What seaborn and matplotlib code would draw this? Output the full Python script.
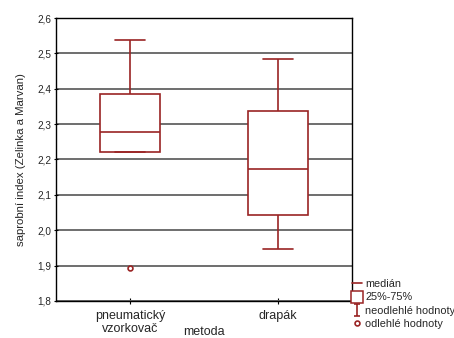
import matplotlib
matplotlib.use("Agg")
import matplotlib.pyplot as plt
from matplotlib.lines import Line2D
from matplotlib.path import Path
import seaborn as sns
import pandas as pd
import numpy as np

# --- data ---
categories = ["pneumatický\nvzorkovač", "drapák"]
whisker_low = [2.221, 1.947]
q1 = [2.221, 2.044]
median = [2.278, 2.174]
q3 = [2.385, 2.336]
whisker_high = [2.537, 2.483]
outliers = [[1.893], []]
yticks = [1.8, 1.9, 2.0, 2.1, 2.2, 2.3, 2.4, 2.5, 2.6]
ytick_labels = ["1,8", "1,9", "2,0", "2,1", "2,2", "2,3", "2,4", "2,5", "2,6"]
legend_labels = ["medián", "25%-75%", "neodlehlé hodnoty", "odlehlé hodnoty"]

# build a 9-point sample per category that reproduces the box summary
rows = []
for i, cat in enumerate(categories):
    prefix = list(outliers[i]) + [whisker_low[i]] * (2 - len(outliers[i]))
    vals = prefix + [q1[i], q1[i], median[i], median[i], q3[i], q3[i], whisker_high[i]]
    for v in vals:
        rows.append({"metoda": cat, "index": v})
df = pd.DataFrame(rows)

sns.set_theme(style="white")
plt.rcParams["font.family"] = ["Liberation Sans", "DejaVu Sans"]

red = "#9a2424"
fig = plt.figure(figsize=(4.54, 3.38), dpi=100)
ax = fig.add_axes([56 / 454, 1 - 301 / 338, 296 / 454, 283 / 338])

ax.yaxis.grid(True, color="#6e6e6e", linewidth=1.4)
ax.set_axisbelow(True)

sns.boxplot(data=df, x="metoda", y="index", order=categories, ax=ax,
            width=0.4, whis=1.5, color="white", linecolor=red, linewidth=1.2,
            flierprops=dict(marker="o", markersize=3.5, markerfacecolor="white",
                            markeredgecolor=red, markeredgewidth=1.2))

ax.set_xlim(-0.5, 1.5)
ax.set_ylim(1.8, 2.6)
ax.set_yticks(yticks)
ax.set_yticklabels(ytick_labels)
ax.set_xlabel("metoda", fontsize=9)
ax.xaxis.set_label_coords(0.5, -0.088)
ax.set_ylabel("saprobní index (Zelinka a Marvan)", fontsize=8.2, labelpad=8)
ax.tick_params(axis="x", labelsize=9, direction="inout", length=4, width=0.8,
               color="black", pad=4.5, bottom=True)
ax.tick_params(axis="y", labelsize=7.2, direction="inout", length=3, width=0.8,
               color="black", left=True, pad=2)
for lab in ax.get_xticklabels():
    lab.set_linespacing(1.1)
for s in ax.spines.values():
    s.set_color("black")
    s.set_linewidth(1.0)

# legend
whisk_path = Path([(-0.5, 1), (0.5, 1), (0, 1), (0, -1), (-0.5, -1), (0.5, -1)],
                  [Path.MOVETO, Path.LINETO, Path.MOVETO, Path.LINETO, Path.MOVETO, Path.LINETO])
handles = [
    Line2D([], [], color=red, linewidth=1.2),
    Line2D([], [], linestyle="none", marker="s", markersize=8, markerfacecolor="white",
           markeredgecolor=red, markeredgewidth=1.1),
    Line2D([], [], linestyle="none", marker=whisk_path, markersize=8, markerfacecolor="none",
           markeredgecolor=red, markeredgewidth=1.2),
    Line2D([], [], linestyle="none", marker="o", markersize=3.5, markerfacecolor="white",
           markeredgecolor=red, markeredgewidth=1.2),
]
fig.legend(handles, legend_labels, loc="upper left", bbox_to_anchor=(350 / 454, 1 - 277 / 338),
           frameon=False, fontsize=7.8, handlelength=0.9, handletextpad=0.3,
           labelspacing=0.3, borderpad=0.2, borderaxespad=0)

fig.savefig("out.png", dpi=100)
